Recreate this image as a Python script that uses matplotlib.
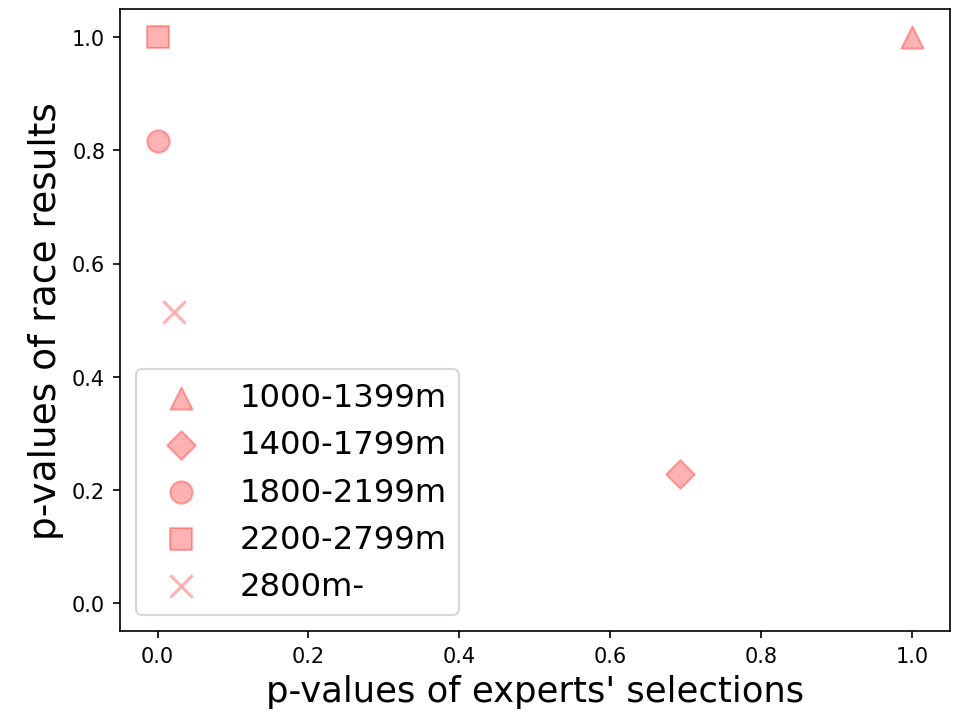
import matplotlib
matplotlib.use("Agg")
import matplotlib.pyplot as plt

labels = ["1000-1399m", "1400-1799m", "1800-2199m", "2200-2799m", "2800m-"]
markers = ["^", "D", "o", "s", "x"]
x_vals = [1.0, 0.693, 0.0, 0.0, 0.022]
y_vals = [1.0, 0.227, 0.816, 1.0, 0.515]

fig = plt.figure(figsize=(6.44, 4.793), dpi=150)
ax = fig.add_axes([0.124, 0.121, 0.859, 0.865])
for lab, m, xv, yv in zip(labels, markers, x_vals, y_vals):
    s = 95 if m == "D" else 115
    ax.scatter([xv], [yv], marker=m, color="red", alpha=0.3, s=s, label=lab)

ax.set_xlabel("p-values of experts' selections", fontsize=17)
ax.set_ylabel("p-values of race results", fontsize=18)
ax.set_xticks([0.0, 0.2, 0.4, 0.6, 0.8, 1.0])
ax.set_yticks([0.0, 0.2, 0.4, 0.6, 0.8, 1.0])
ax.set_xlim(-0.05, 1.05)
ax.set_ylim(-0.05, 1.05)
ax.legend(loc="lower left", fontsize=15.5)
fig.savefig("out.png", dpi=150)
